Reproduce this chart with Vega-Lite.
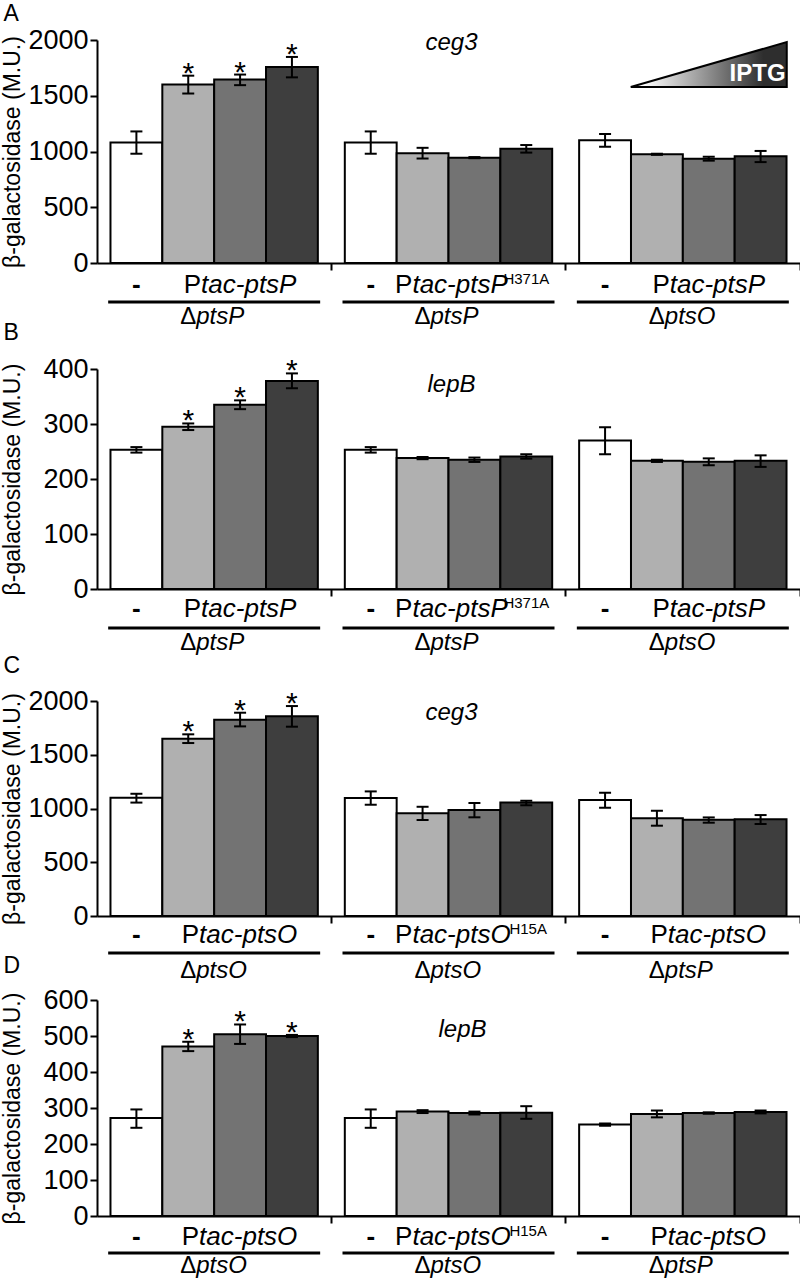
{
  "$schema": "https://vega.github.io/schema/vega-lite/v6.json",
  "background": "white",
  "padding": {"left": 0, "top": 3, "right": 0, "bottom": 0},
  "spacing": 84,
  "bounds": "flush",
  "config": {
    "view": {"stroke": null},
    "font": "Liberation Sans",
    "axis": {"grid": false, "domainColor": "black", "domainWidth": 2, "tickColor": "black", "tickWidth": 2, "tickSize": 7, "labelFont": "Liberation Sans", "labelFontSize": 27, "labelColor": "black", "labelPadding": 2, "labelOverlap": false, "labelSeparation": 0, "titleFont": "Liberation Sans", "titleFontSize": 23, "titleFontWeight": "normal", "titleColor": "black"},
    "axisY": {"titleX": -78, "titleBaseline": "alphabetic", "titleAlign": "center", "titleAngle": -90, "format": "d", "labelOverlap": false},
    "axisX": {"labels": false, "title": null, "bandPosition": 1},
    "text": {"font": "Liberation Sans", "fontSize": 26, "color": "black", "baseline": "alphabetic"}
  },
  "datasets": {
    "A": [
      {"group":"1","level":"1","value":1080,"lo":980,"hi":1180,"sig":""},
      {"group":"1","level":"2","value":1600,"lo":1520,"hi":1680,"sig":"*"},
      {"group":"1","level":"3","value":1645,"lo":1595,"hi":1690,"sig":"*"},
      {"group":"1","level":"4","value":1758,"lo":1665,"hi":1848,"sig":"*"},
      {"group":"2","level":"1","value":1080,"lo":980,"hi":1180,"sig":""},
      {"group":"2","level":"2","value":985,"lo":937,"hi":1033,"sig":""},
      {"group":"2","level":"3","value":945,"lo":940,"hi":950,"sig":""},
      {"group":"2","level":"4","value":1025,"lo":990,"hi":1058,"sig":""},
      {"group":"3","level":"1","value":1100,"lo":1043,"hi":1157,"sig":""},
      {"group":"3","level":"2","value":975,"lo":970,"hi":980,"sig":""},
      {"group":"3","level":"3","value":936,"lo":918,"hi":953,"sig":""},
      {"group":"3","level":"4","value":958,"lo":905,"hi":1005,"sig":""}
    ],
    "B": [
      {"group":"1","level":"1","value":253,"lo":248,"hi":258,"sig":""},
      {"group":"1","level":"2","value":295,"lo":289,"hi":301,"sig":"*"},
      {"group":"1","level":"3","value":335,"lo":327,"hi":343,"sig":"*"},
      {"group":"1","level":"4","value":378,"lo":365,"hi":392,"sig":"*"},
      {"group":"2","level":"1","value":253,"lo":248,"hi":258,"sig":""},
      {"group":"2","level":"2","value":238,"lo":236,"hi":240,"sig":""},
      {"group":"2","level":"3","value":235,"lo":231,"hi":239,"sig":""},
      {"group":"2","level":"4","value":241,"lo":237,"hi":245,"sig":""},
      {"group":"3","level":"1","value":270,"lo":245,"hi":294,"sig":""},
      {"group":"3","level":"2","value":233,"lo":231,"hi":235,"sig":""},
      {"group":"3","level":"3","value":231.5,"lo":225,"hi":237.5,"sig":""},
      {"group":"3","level":"4","value":233,"lo":222,"hi":243,"sig":""}
    ],
    "C": [
      {"group":"1","level":"1","value":1100,"lo":1055,"hi":1137,"sig":""},
      {"group":"1","level":"2","value":1650,"lo":1609,"hi":1690,"sig":"*"},
      {"group":"1","level":"3","value":1826,"lo":1764,"hi":1891,"sig":"*"},
      {"group":"1","level":"4","value":1857,"lo":1761,"hi":1953,"sig":"*"},
      {"group":"2","level":"1","value":1097,"lo":1035,"hi":1159,"sig":""},
      {"group":"2","level":"2","value":955,"lo":893,"hi":1016,"sig":""},
      {"group":"2","level":"3","value":985,"lo":918,"hi":1051,"sig":""},
      {"group":"2","level":"4","value":1055,"lo":1030,"hi":1072,"sig":""},
      {"group":"3","level":"1","value":1079,"lo":1007,"hi":1147,"sig":""},
      {"group":"3","level":"2","value":910,"lo":840,"hi":979,"sig":""},
      {"group":"3","level":"3","value":895,"lo":868,"hi":917,"sig":""},
      {"group":"3","level":"4","value":900,"lo":856,"hi":939,"sig":""}
    ],
    "D": [
      {"group":"1","level":"1","value":272,"lo":245,"hi":296,"sig":""},
      {"group":"1","level":"2","value":471,"lo":458,"hi":484,"sig":"*"},
      {"group":"1","level":"3","value":505,"lo":478,"hi":532,"sig":"*"},
      {"group":"1","level":"4","value":500,"lo":497,"hi":503,"sig":"*"},
      {"group":"2","level":"1","value":272,"lo":245,"hi":296,"sig":""},
      {"group":"2","level":"2","value":290,"lo":286,"hi":294,"sig":""},
      {"group":"2","level":"3","value":286,"lo":282,"hi":290,"sig":""},
      {"group":"2","level":"4","value":287,"lo":270,"hi":305,"sig":""},
      {"group":"3","level":"1","value":254,"lo":251,"hi":257,"sig":""},
      {"group":"3","level":"2","value":283,"lo":274,"hi":293,"sig":""},
      {"group":"3","level":"3","value":286,"lo":284,"hi":288,"sig":""},
      {"group":"3","level":"4","value":289,"lo":285,"hi":293,"sig":""}
    ],
    "labP": [
      {"group":"1","gene":"tac-ptsP","sup":"","strain":"ptsP"},
      {"group":"2","gene":"tac-ptsP","sup":"H371A","strain":"ptsP"},
      {"group":"3","gene":"tac-ptsP","sup":"","strain":"ptsO"}
    ],
    "labO": [
      {"group":"1","gene":"tac-ptsO","sup":"","strain":"ptsO"},
      {"group":"2","gene":"tac-ptsO","sup":"H15A","strain":"ptsO"},
      {"group":"3","gene":"tac-ptsO","sup":"","strain":"ptsP"}
    ]
  },
  "vconcat": [
    {
      "width": 703, "height": 223,
      "layer": [
        {"data":{"name":"A"},"mark":{"type":"bar","stroke":"black","strokeWidth":2},
         "encoding":{
           "x":{"field":"group","type":"nominal","scale":{"paddingInner":0,"paddingOuter":0}},
           "xOffset":{"field":"level","type":"nominal","scale":{"paddingInner":0,"paddingOuter":0.26}},
           "y":{"field":"value","type":"quantitative","scale":{"domain":[0,2000],"nice":false},"axis":{"values":[0,500,1000,1500,2000],"labelOverlap":false,"title":"β-galactosidase (M.U.)"}},
           "fill":{"field":"level","type":"nominal","scale":{"range":["#ffffff","#b0b0b0","#737373","#3e3e3e"]},"legend":null}}},
        {"data":{"name":"A"},"mark":{"type":"rule","color":"black","strokeWidth":2},
         "encoding":{"x":{"field":"group","type":"nominal"},"xOffset":{"field":"level","type":"nominal"},"y":{"field":"lo","type":"quantitative"},"y2":{"field":"hi"}}},
        {"data":{"name":"A"},"mark":{"type":"tick","color":"black","size":12,"thickness":2,"opacity":1},
         "encoding":{"x":{"field":"group","type":"nominal"},"xOffset":{"field":"level","type":"nominal"},"y":{"field":"lo","type":"quantitative"}}},
        {"data":{"name":"A"},"mark":{"type":"tick","color":"black","size":12,"thickness":2,"opacity":1},
         "encoding":{"x":{"field":"group","type":"nominal"},"xOffset":{"field":"level","type":"nominal"},"y":{"field":"hi","type":"quantitative"}}},
        {"data":{"name":"A"},"mark":{"type":"text","fontSize":30,"dy":7},
         "encoding":{"x":{"field":"group","type":"nominal"},"xOffset":{"field":"level","type":"nominal"},"y":{"field":"hi","type":"quantitative"},"text":{"field":"sig"}}},
        {"data":{"values":[{"panel":"A"}]},"mark":{"type":"text","fontSize":23,"align":"left","dx":-133},
         "encoding":{"x":{"datum":"1","type":"nominal"},"xOffset":{"datum":"1","type":"nominal"},"y":{"datum":2170,"type":"quantitative"},"text":{"field":"panel"}}},
        {"data":{"name":"labP"},"mark":{"type":"text","text":"-","fontWeight":"bold","dy":30},
         "encoding":{"x":{"field":"group","type":"nominal"},"xOffset":{"datum":"1","type":"nominal"},"y":{"datum":0,"type":"quantitative"}}},
        {"data":{"name":"labP"},"transform":[{"filter":"datum.sup == ''"}],"mark":{"type":"text","text":"P","align":"right","dx":-39,"dy":30},
         "encoding":{"x":{"field":"group","type":"nominal"},"xOffset":{"datum":"3","type":"nominal"},"y":{"datum":0,"type":"quantitative"}}},
        {"data":{"name":"labP"},"transform":[{"filter":"datum.sup == ''"}],"mark":{"type":"text","align":"left","fontStyle":"italic","dx":-39,"dy":30},
         "encoding":{"x":{"field":"group","type":"nominal"},"xOffset":{"datum":"3","type":"nominal"},"y":{"datum":0,"type":"quantitative"},"text":{"field":"gene"}}},
        {"data":{"name":"labP"},"transform":[{"filter":"datum.sup != ''"}],"mark":{"type":"text","text":"P","align":"right","dx":-62,"dy":30},
         "encoding":{"x":{"field":"group","type":"nominal"},"xOffset":{"datum":"3","type":"nominal"},"y":{"datum":0,"type":"quantitative"}}},
        {"data":{"name":"labP"},"transform":[{"filter":"datum.sup != ''"}],"mark":{"type":"text","align":"left","fontStyle":"italic","dx":-62,"dy":30},
         "encoding":{"x":{"field":"group","type":"nominal"},"xOffset":{"datum":"3","type":"nominal"},"y":{"datum":0,"type":"quantitative"},"text":{"field":"gene"}}},
        {"data":{"name":"labP"},"transform":[{"filter":"datum.sup != ''"}],"mark":{"type":"text","align":"left","fontSize":15,"dx":29,"dy":21},
         "encoding":{"x":{"field":"group","type":"nominal"},"xOffset":{"datum":"3","type":"nominal"},"y":{"datum":0,"type":"quantitative"},"text":{"field":"sup"}}},
        {"data":{"name":"labP"},"mark":{"type":"tick","color":"black","size":212,"thickness":3,"yOffset":39,"opacity":1},
         "encoding":{"x":{"field":"group","type":"nominal"},"y":{"datum":0,"type":"quantitative"}}},
        {"data":{"name":"labP"},"mark":{"type":"text","text":"Δ","align":"right","fontSize":24,"dx":-18,"dy":61},
         "encoding":{"x":{"field":"group","type":"nominal"},"y":{"datum":0,"type":"quantitative"}}},
        {"data":{"name":"labP"},"mark":{"type":"text","align":"left","fontStyle":"italic","fontSize":24,"dx":-18,"dy":61},
         "encoding":{"x":{"field":"group","type":"nominal"},"y":{"datum":0,"type":"quantitative"},"text":{"field":"strain"}}},
        {"data":{"values":[{"gene":"ceg3"}]},"mark":{"type":"text","fontStyle":"italic","fontSize":24,"align":"center","dx":3},
         "encoding":{"x":{"datum":"2","type":"nominal"},"y":{"datum":1910,"type":"quantitative"},"text":{"field":"gene"}}},
        {"data":{"values":[{"label":"IPTG"}]},"mark":{"type":"point","shape":"M-1,0.288L1,-0.288L1,0.288Z","size":24336,"filled":true,"opacity":1,"fill":{"gradient":"linear","x1":0,"x2":1,"y1":0,"y2":0,"stops":[{"offset":0.08,"color":"#ffffff"},{"offset":0.85,"color":"#2e2e2e"}]},"stroke":"black","strokeWidth":2},
         "encoding":{"x":{"datum":"3","type":"nominal"},"xOffset":{"datum":"3","type":"nominal"},"y":{"datum":1780,"type":"quantitative"}}},
        {"data":{"values":[{"label":"IPTG"}]},"mark":{"type":"text","fill":"white","fontWeight":"bold","fontSize":24,"align":"center","dx":-3},
         "encoding":{"x":{"datum":"3","type":"nominal"},"xOffset":{"datum":"4","type":"nominal"},"y":{"datum":1632,"type":"quantitative"},"text":{"field":"label"}}}
      ]
    },
    {
      "width": 703, "height": 242,
      "layer": [
        {"data":{"name":"B"},"mark":{"type":"bar","stroke":"black","strokeWidth":2},
         "encoding":{
           "x":{"field":"group","type":"nominal","scale":{"paddingInner":0,"paddingOuter":0}},
           "xOffset":{"field":"level","type":"nominal","scale":{"paddingInner":0,"paddingOuter":0.26}},
           "y":{"field":"value","type":"quantitative","scale":{"domain":[0,400],"nice":false,"range":[242,22]},"axis":{"values":[0,100,200,300,400],"labelOverlap":false,"title":"β-galactosidase (M.U.)"}},
           "fill":{"field":"level","type":"nominal","scale":{"range":["#ffffff","#b0b0b0","#737373","#3e3e3e"]},"legend":null}}},
        {"data":{"name":"B"},"mark":{"type":"rule","color":"black","strokeWidth":2},
         "encoding":{"x":{"field":"group","type":"nominal"},"xOffset":{"field":"level","type":"nominal"},"y":{"field":"lo","type":"quantitative"},"y2":{"field":"hi"}}},
        {"data":{"name":"B"},"mark":{"type":"tick","color":"black","size":12,"thickness":2,"opacity":1},
         "encoding":{"x":{"field":"group","type":"nominal"},"xOffset":{"field":"level","type":"nominal"},"y":{"field":"lo","type":"quantitative"}}},
        {"data":{"name":"B"},"mark":{"type":"tick","color":"black","size":12,"thickness":2,"opacity":1},
         "encoding":{"x":{"field":"group","type":"nominal"},"xOffset":{"field":"level","type":"nominal"},"y":{"field":"hi","type":"quantitative"}}},
        {"data":{"name":"B"},"mark":{"type":"text","fontSize":30,"dy":7},
         "encoding":{"x":{"field":"group","type":"nominal"},"xOffset":{"field":"level","type":"nominal"},"y":{"field":"hi","type":"quantitative"},"text":{"field":"sig"}}},
        {"data":{"values":[{"panel":"B"}]},"mark":{"type":"text","fontSize":23,"align":"left","dx":-133},
         "encoding":{"x":{"datum":"1","type":"nominal"},"xOffset":{"datum":"1","type":"nominal"},"y":{"datum":453,"type":"quantitative"},"text":{"field":"panel"}}},
        {"data":{"name":"labP"},"mark":{"type":"text","text":"-","fontWeight":"bold","dy":28},
         "encoding":{"x":{"field":"group","type":"nominal"},"xOffset":{"datum":"1","type":"nominal"},"y":{"datum":0,"type":"quantitative"}}},
        {"data":{"name":"labP"},"transform":[{"filter":"datum.sup == ''"}],"mark":{"type":"text","text":"P","align":"right","dx":-39,"dy":28},
         "encoding":{"x":{"field":"group","type":"nominal"},"xOffset":{"datum":"3","type":"nominal"},"y":{"datum":0,"type":"quantitative"}}},
        {"data":{"name":"labP"},"transform":[{"filter":"datum.sup == ''"}],"mark":{"type":"text","align":"left","fontStyle":"italic","dx":-39,"dy":28},
         "encoding":{"x":{"field":"group","type":"nominal"},"xOffset":{"datum":"3","type":"nominal"},"y":{"datum":0,"type":"quantitative"},"text":{"field":"gene"}}},
        {"data":{"name":"labP"},"transform":[{"filter":"datum.sup != ''"}],"mark":{"type":"text","text":"P","align":"right","dx":-62,"dy":28},
         "encoding":{"x":{"field":"group","type":"nominal"},"xOffset":{"datum":"3","type":"nominal"},"y":{"datum":0,"type":"quantitative"}}},
        {"data":{"name":"labP"},"transform":[{"filter":"datum.sup != ''"}],"mark":{"type":"text","align":"left","fontStyle":"italic","dx":-62,"dy":28},
         "encoding":{"x":{"field":"group","type":"nominal"},"xOffset":{"datum":"3","type":"nominal"},"y":{"datum":0,"type":"quantitative"},"text":{"field":"gene"}}},
        {"data":{"name":"labP"},"transform":[{"filter":"datum.sup != ''"}],"mark":{"type":"text","align":"left","fontSize":15,"dx":29,"dy":19},
         "encoding":{"x":{"field":"group","type":"nominal"},"xOffset":{"datum":"3","type":"nominal"},"y":{"datum":0,"type":"quantitative"},"text":{"field":"sup"}}},
        {"data":{"name":"labP"},"mark":{"type":"tick","color":"black","size":212,"thickness":3,"yOffset":39,"opacity":1},
         "encoding":{"x":{"field":"group","type":"nominal"},"y":{"datum":0,"type":"quantitative"}}},
        {"data":{"name":"labP"},"mark":{"type":"text","text":"Δ","align":"right","fontSize":24,"dx":-18,"dy":61},
         "encoding":{"x":{"field":"group","type":"nominal"},"y":{"datum":0,"type":"quantitative"}}},
        {"data":{"name":"labP"},"mark":{"type":"text","align":"left","fontStyle":"italic","fontSize":24,"dx":-18,"dy":61},
         "encoding":{"x":{"field":"group","type":"nominal"},"y":{"datum":0,"type":"quantitative"},"text":{"field":"strain"}}},
        {"data":{"values":[{"gene":"lepB"}]},"mark":{"type":"text","fontStyle":"italic","fontSize":24,"align":"center","dx":3},
         "encoding":{"x":{"datum":"2","type":"nominal"},"y":{"datum":359,"type":"quantitative"},"text":{"field":"gene"}}}
      ]
    },
    {
      "width": 703, "height": 243,
      "layer": [
        {"data":{"name":"C"},"mark":{"type":"bar","stroke":"black","strokeWidth":2},
         "encoding":{
           "x":{"field":"group","type":"nominal","scale":{"paddingInner":0,"paddingOuter":0}},
           "xOffset":{"field":"level","type":"nominal","scale":{"paddingInner":0,"paddingOuter":0.26}},
           "y":{"field":"value","type":"quantitative","scale":{"domain":[0,2000],"nice":false,"range":[243,28]},"axis":{"values":[0,500,1000,1500,2000],"labelOverlap":false,"title":"β-galactosidase (M.U.)"}},
           "fill":{"field":"level","type":"nominal","scale":{"range":["#ffffff","#b0b0b0","#737373","#3e3e3e"]},"legend":null}}},
        {"data":{"name":"C"},"mark":{"type":"rule","color":"black","strokeWidth":2},
         "encoding":{"x":{"field":"group","type":"nominal"},"xOffset":{"field":"level","type":"nominal"},"y":{"field":"lo","type":"quantitative"},"y2":{"field":"hi"}}},
        {"data":{"name":"C"},"mark":{"type":"tick","color":"black","size":12,"thickness":2,"opacity":1},
         "encoding":{"x":{"field":"group","type":"nominal"},"xOffset":{"field":"level","type":"nominal"},"y":{"field":"lo","type":"quantitative"}}},
        {"data":{"name":"C"},"mark":{"type":"tick","color":"black","size":12,"thickness":2,"opacity":1},
         "encoding":{"x":{"field":"group","type":"nominal"},"xOffset":{"field":"level","type":"nominal"},"y":{"field":"hi","type":"quantitative"}}},
        {"data":{"name":"C"},"mark":{"type":"text","fontSize":30,"dy":7},
         "encoding":{"x":{"field":"group","type":"nominal"},"xOffset":{"field":"level","type":"nominal"},"y":{"field":"hi","type":"quantitative"},"text":{"field":"sig"}}},
        {"data":{"values":[{"panel":"C"}]},"mark":{"type":"text","fontSize":23,"align":"left","dx":-133},
         "encoding":{"x":{"datum":"1","type":"nominal"},"xOffset":{"datum":"1","type":"nominal"},"y":{"datum":2260,"type":"quantitative"},"text":{"field":"panel"}}},
        {"data":{"name":"labO"},"mark":{"type":"text","text":"-","fontWeight":"bold","dy":27},
         "encoding":{"x":{"field":"group","type":"nominal"},"xOffset":{"datum":"1","type":"nominal"},"y":{"datum":0,"type":"quantitative"}}},
        {"data":{"name":"labO"},"transform":[{"filter":"datum.sup == ''"}],"mark":{"type":"text","text":"P","align":"right","dx":-41,"dy":27},
         "encoding":{"x":{"field":"group","type":"nominal"},"xOffset":{"datum":"3","type":"nominal"},"y":{"datum":0,"type":"quantitative"}}},
        {"data":{"name":"labO"},"transform":[{"filter":"datum.sup == ''"}],"mark":{"type":"text","align":"left","fontStyle":"italic","dx":-41,"dy":27},
         "encoding":{"x":{"field":"group","type":"nominal"},"xOffset":{"datum":"3","type":"nominal"},"y":{"datum":0,"type":"quantitative"},"text":{"field":"gene"}}},
        {"data":{"name":"labO"},"transform":[{"filter":"datum.sup != ''"}],"mark":{"type":"text","text":"P","align":"right","dx":-62,"dy":27},
         "encoding":{"x":{"field":"group","type":"nominal"},"xOffset":{"datum":"3","type":"nominal"},"y":{"datum":0,"type":"quantitative"}}},
        {"data":{"name":"labO"},"transform":[{"filter":"datum.sup != ''"}],"mark":{"type":"text","align":"left","fontStyle":"italic","dx":-62,"dy":27},
         "encoding":{"x":{"field":"group","type":"nominal"},"xOffset":{"datum":"3","type":"nominal"},"y":{"datum":0,"type":"quantitative"},"text":{"field":"gene"}}},
        {"data":{"name":"labO"},"transform":[{"filter":"datum.sup != ''"}],"mark":{"type":"text","align":"left","fontSize":15,"dx":35,"dy":18},
         "encoding":{"x":{"field":"group","type":"nominal"},"xOffset":{"datum":"3","type":"nominal"},"y":{"datum":0,"type":"quantitative"},"text":{"field":"sup"}}},
        {"data":{"name":"labO"},"mark":{"type":"tick","color":"black","size":212,"thickness":3,"yOffset":37,"opacity":1},
         "encoding":{"x":{"field":"group","type":"nominal"},"y":{"datum":0,"type":"quantitative"}}},
        {"data":{"name":"labO"},"mark":{"type":"text","text":"Δ","align":"right","fontSize":24,"dx":-18,"dy":62},
         "encoding":{"x":{"field":"group","type":"nominal"},"y":{"datum":0,"type":"quantitative"}}},
        {"data":{"name":"labO"},"mark":{"type":"text","align":"left","fontStyle":"italic","fontSize":24,"dx":-18,"dy":62},
         "encoding":{"x":{"field":"group","type":"nominal"},"y":{"datum":0,"type":"quantitative"},"text":{"field":"strain"}}},
        {"data":{"values":[{"gene":"ceg3"}]},"mark":{"type":"text","fontStyle":"italic","fontSize":24,"align":"center","dx":3},
         "encoding":{"x":{"datum":"2","type":"nominal"},"y":{"datum":1823,"type":"quantitative"},"text":{"field":"gene"}}}
      ]
    },
    {
      "width": 703, "height": 216,
      "layer": [
        {"data":{"name":"D"},"mark":{"type":"bar","stroke":"black","strokeWidth":2},
         "encoding":{
           "x":{"field":"group","type":"nominal","scale":{"paddingInner":0,"paddingOuter":0}},
           "xOffset":{"field":"level","type":"nominal","scale":{"paddingInner":0,"paddingOuter":0.26}},
           "y":{"field":"value","type":"quantitative","scale":{"domain":[0,600],"nice":false},"axis":{"values":[0,100,200,300,400,500,600],"labelOverlap":false,"title":"β-galactosidase (M.U.)"}},
           "fill":{"field":"level","type":"nominal","scale":{"range":["#ffffff","#b0b0b0","#737373","#3e3e3e"]},"legend":null}}},
        {"data":{"name":"D"},"mark":{"type":"rule","color":"black","strokeWidth":2},
         "encoding":{"x":{"field":"group","type":"nominal"},"xOffset":{"field":"level","type":"nominal"},"y":{"field":"lo","type":"quantitative","axis":{"values":[0,100,200,300,400,500,600],"labelOverlap":false,"title":"β-galactosidase (M.U.)"}},"y2":{"field":"hi"}}},
        {"data":{"name":"D"},"mark":{"type":"tick","color":"black","size":12,"thickness":2,"opacity":1},
         "encoding":{"x":{"field":"group","type":"nominal"},"xOffset":{"field":"level","type":"nominal"},"y":{"field":"lo","type":"quantitative","axis":{"values":[0,100,200,300,400,500,600],"labelOverlap":false,"title":"β-galactosidase (M.U.)"}}}},
        {"data":{"name":"D"},"mark":{"type":"tick","color":"black","size":12,"thickness":2,"opacity":1},
         "encoding":{"x":{"field":"group","type":"nominal"},"xOffset":{"field":"level","type":"nominal"},"y":{"field":"hi","type":"quantitative","axis":{"values":[0,100,200,300,400,500,600],"labelOverlap":false,"title":"β-galactosidase (M.U.)"}}}},
        {"data":{"name":"D"},"mark":{"type":"text","fontSize":30,"dy":7},
         "encoding":{"x":{"field":"group","type":"nominal"},"xOffset":{"field":"level","type":"nominal"},"y":{"field":"hi","type":"quantitative","axis":{"values":[0,100,200,300,400,500,600],"labelOverlap":false,"title":"β-galactosidase (M.U.)"}},"text":{"field":"sig"}}},
        {"data":{"values":[{"panel":"D"}]},"mark":{"type":"text","fontSize":23,"align":"left","dx":-133},
         "encoding":{"x":{"datum":"1","type":"nominal"},"xOffset":{"datum":"1","type":"nominal"},"y":{"datum":675,"type":"quantitative","axis":{"values":[0,100,200,300,400,500,600],"labelOverlap":false,"title":"β-galactosidase (M.U.)"}},"text":{"field":"panel"}}},
        {"data":{"name":"labO"},"mark":{"type":"text","text":"-","fontWeight":"bold","dy":29},
         "encoding":{"x":{"field":"group","type":"nominal"},"xOffset":{"datum":"1","type":"nominal"},"y":{"datum":0,"type":"quantitative","axis":{"values":[0,100,200,300,400,500,600],"labelOverlap":false,"title":"β-galactosidase (M.U.)"}}}},
        {"data":{"name":"labO"},"transform":[{"filter":"datum.sup == ''"}],"mark":{"type":"text","text":"P","align":"right","dx":-41,"dy":29},
         "encoding":{"x":{"field":"group","type":"nominal"},"xOffset":{"datum":"3","type":"nominal"},"y":{"datum":0,"type":"quantitative","axis":{"values":[0,100,200,300,400,500,600],"labelOverlap":false,"title":"β-galactosidase (M.U.)"}}}},
        {"data":{"name":"labO"},"transform":[{"filter":"datum.sup == ''"}],"mark":{"type":"text","align":"left","fontStyle":"italic","dx":-41,"dy":29},
         "encoding":{"x":{"field":"group","type":"nominal"},"xOffset":{"datum":"3","type":"nominal"},"y":{"datum":0,"type":"quantitative","axis":{"values":[0,100,200,300,400,500,600],"labelOverlap":false,"title":"β-galactosidase (M.U.)"}},"text":{"field":"gene"}}},
        {"data":{"name":"labO"},"transform":[{"filter":"datum.sup != ''"}],"mark":{"type":"text","text":"P","align":"right","dx":-62,"dy":29},
         "encoding":{"x":{"field":"group","type":"nominal"},"xOffset":{"datum":"3","type":"nominal"},"y":{"datum":0,"type":"quantitative","axis":{"values":[0,100,200,300,400,500,600],"labelOverlap":false,"title":"β-galactosidase (M.U.)"}}}},
        {"data":{"name":"labO"},"transform":[{"filter":"datum.sup != ''"}],"mark":{"type":"text","align":"left","fontStyle":"italic","dx":-62,"dy":29},
         "encoding":{"x":{"field":"group","type":"nominal"},"xOffset":{"datum":"3","type":"nominal"},"y":{"datum":0,"type":"quantitative","axis":{"values":[0,100,200,300,400,500,600],"labelOverlap":false,"title":"β-galactosidase (M.U.)"}},"text":{"field":"gene"}}},
        {"data":{"name":"labO"},"transform":[{"filter":"datum.sup != ''"}],"mark":{"type":"text","align":"left","fontSize":15,"dx":35,"dy":20},
         "encoding":{"x":{"field":"group","type":"nominal"},"xOffset":{"datum":"3","type":"nominal"},"y":{"datum":0,"type":"quantitative","axis":{"values":[0,100,200,300,400,500,600],"labelOverlap":false,"title":"β-galactosidase (M.U.)"}},"text":{"field":"sup"}}},
        {"data":{"name":"labO"},"mark":{"type":"tick","color":"black","size":212,"thickness":3,"yOffset":37,"opacity":1},
         "encoding":{"x":{"field":"group","type":"nominal"},"y":{"datum":0,"type":"quantitative","axis":{"values":[0,100,200,300,400,500,600],"labelOverlap":false,"title":"β-galactosidase (M.U.)"}}}},
        {"data":{"name":"labO"},"mark":{"type":"text","text":"Δ","align":"right","fontSize":24,"dx":-18,"dy":57},
         "encoding":{"x":{"field":"group","type":"nominal"},"y":{"datum":0,"type":"quantitative","axis":{"values":[0,100,200,300,400,500,600],"labelOverlap":false,"title":"β-galactosidase (M.U.)"}}}},
        {"data":{"name":"labO"},"mark":{"type":"text","align":"left","fontStyle":"italic","fontSize":24,"dx":-18,"dy":57},
         "encoding":{"x":{"field":"group","type":"nominal"},"y":{"datum":0,"type":"quantitative","axis":{"values":[0,100,200,300,400,500,600],"labelOverlap":false,"title":"β-galactosidase (M.U.)"}},"text":{"field":"strain"}}},
        {"data":{"values":[{"gene":"lepB"}]},"mark":{"type":"text","fontStyle":"italic","fontSize":24,"align":"center","dx":14},
         "encoding":{"x":{"datum":"2","type":"nominal"},"y":{"datum":498,"type":"quantitative","axis":{"values":[0,100,200,300,400,500,600],"labelOverlap":false,"title":"β-galactosidase (M.U.)"}},"text":{"field":"gene"}}}
      ]
    }
  ]
}
